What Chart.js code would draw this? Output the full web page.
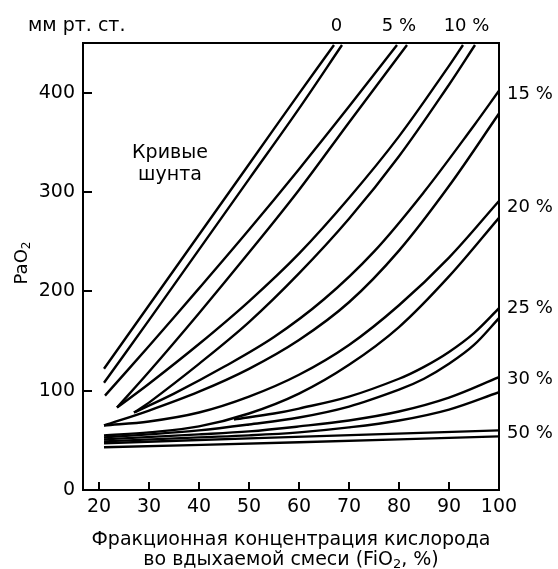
<!DOCTYPE html>
<html>
<head>
<meta charset="utf-8">
<script src="https://cdn.jsdelivr.net/npm/chart.js@4"></script>
<style>
  html, body { margin: 0; padding: 0; background: #fff; }
</style>
</head>
<body>
<canvas id="shuntChart" width="558" height="569"></canvas>
<script>
const fio2Ticks = [20, 30, 40, 50, 60, 70, 80, 90, 100];
const pao2Ticks = [0, 100, 200, 300, 400];

// two curves per shunt level, [FiO2 %, PaO2 mm Hg]
const shunt0a = [[21, 122], [30, 186], [40, 257], [50, 328], [60, 399], [67, 448]];
const shunt0b = [[21, 108], [30, 171], [40, 242], [50, 313], [60, 384], [68.6, 448]];
const shunt5a = [[21.2, 95], [30, 145], [40, 203], [50, 262], [60, 323], [70, 386], [79.6, 448]];
const shunt5b = [[23.6, 83], [30, 119], [40, 178], [50, 239], [60, 302], [70, 370], [81.6, 448]];
const shunt10a = [[23.6, 83], [30, 107], [40, 147], [50, 190], [60, 238], [70, 294], [80, 356], [90, 427], [92.8, 448]];
const shunt10b = [[27, 78], [30, 88], [40, 127], [50, 169], [60, 218], [70, 273], [80, 336], [90, 408], [95.2, 448]];
const shunt15a = [[27, 78], [35, 97], [45, 124], [55, 154], [65, 192], [75, 240], [85, 300], [95, 367], [100, 402]];
const shunt15b = [[21, 65], [30, 80], [40, 99], [50, 122], [60, 151], [70, 189], [80, 241], [90, 306], [100, 379]];
const shunt20a = [[21, 65], [30, 69], [40, 78], [50, 94], [60, 116], [70, 146], [80, 186], [90, 234], [100, 291]];
const shunt20b = [[21, 55], [30, 58], [40, 64], [50, 77], [60, 97], [70, 126], [80, 164], [90, 215], [100, 274]];
const shunt25a = [[47, 71], [55, 77], [60, 82], [70, 94], [80, 112], [85, 124], [90, 139], [95, 158], [100, 183]];
const shunt25b = [[21, 53], [30, 56], [40, 60], [50, 66], [60, 73], [70, 84], [80, 101], [85, 112], [90, 127], [95, 146], [100, 173]];
const shunt30a = [[21, 51], [40, 56], [50, 59], [60, 64], [70, 70], [80, 79], [90, 93], [100, 113.6]];
const shunt30b = [[21, 49], [40, 53], [50, 55], [60, 58], [70, 63], [80, 70], [90, 81], [100, 98.5]];
const shunt50a = [[21, 47], [50, 52], [100, 60]];
const shunt50b = [[21, 43], [60, 48], [100, 54]];

const topLabels = ["0", "5 %", "10 %"];
const topLabelX = [67.5, 80, 93.5];
const rightLabels = ["15 %", "20 %", "25 %", "30 %", "50 %"];
const rightLabelY = [398, 285, 183, 111, 57];

const curves = [shunt0a, shunt0b, shunt5a, shunt5b, shunt10a, shunt10b, shunt15a, shunt15b,
  shunt20a, shunt20b, shunt25a, shunt25b, shunt30a, shunt30b, shunt50a, shunt50b];

const font = "'DejaVu Sans', sans-serif";

const frameAndText = {
  id: "frameAndText",
  afterDraw(chart) {
    const ctx = chart.ctx;
    const a = chart.chartArea;
    const xs = chart.scales.x;
    const ys = chart.scales.y;
    ctx.save();
    ctx.strokeStyle = "#000";
    ctx.lineWidth = 2;
    ctx.strokeRect(a.left, a.top, a.right - a.left, a.bottom - a.top);
    // inward tick marks
    ctx.beginPath();
    fio2Ticks.forEach((v) => {
      const px = Math.round(xs.getPixelForValue(v));
      ctx.moveTo(px, a.bottom);
      ctx.lineTo(px, a.bottom - 8);
    });
    pao2Ticks.slice(1).forEach((v) => {
      const py = Math.round(ys.getPixelForValue(v));
      ctx.moveTo(a.left, py);
      ctx.lineTo(a.left + 9, py);
    });
    ctx.stroke();

    ctx.fillStyle = "#000";
    ctx.textBaseline = "middle";
    ctx.font = "19px " + font;
    ctx.textAlign = "left";
    ctx.fillText("мм рт. ст.", 28, 26);

    ctx.font = "18px " + font;
    ctx.textAlign = "center";
    topLabels.forEach((t, i) => {
      ctx.fillText(t, xs.getPixelForValue(topLabelX[i]), 26);
    });
    ctx.textAlign = "left";
    rightLabels.forEach((t, i) => {
      ctx.fillText(t, a.right + 8, ys.getPixelForValue(rightLabelY[i]));
    });

    ctx.font = "19px " + font;
    ctx.textAlign = "center";
    ctx.fillText("Кривые", 170, 153);
    ctx.fillText("шунта", 170, 175);

    // y title PaO2
    ctx.save();
    ctx.translate(22, 263);
    ctx.rotate(-Math.PI / 2);
    ctx.font = "18px " + font;
    ctx.textAlign = "left";
    const w1 = ctx.measureText("PaO").width;
    ctx.font = "12px " + font;
    const w2 = ctx.measureText("2").width;
    ctx.font = "18px " + font;
    ctx.fillText("PaO", -(w1 + w2) / 2, 0);
    ctx.font = "12px " + font;
    ctx.fillText("2", -(w1 + w2) / 2 + w1, 5);
    ctx.restore();

    // x title, two lines
    ctx.font = "19px " + font;
    ctx.textAlign = "center";
    ctx.fillText("Фракционная концентрация кислорода", 291, 540);
    const p1 = "во вдыхаемой смеси (FiO";
    const p2 = "2";
    const p3 = ", %)";
    const wa = ctx.measureText(p1).width;
    const wc = ctx.measureText(p3).width;
    ctx.font = "13px " + font;
    const wb = ctx.measureText(p2).width;
    let sx = 291 - (wa + wb + wc) / 2;
    ctx.textAlign = "left";
    ctx.font = "19px " + font;
    ctx.fillText(p1, sx, 560);
    ctx.font = "13px " + font;
    ctx.fillText(p2, sx + wa, 565);
    ctx.font = "19px " + font;
    ctx.fillText(p3, sx + wa + wb, 560);
    ctx.restore();
  },
};

new Chart("shuntChart", {
  type: "scatter",
  data: {
    datasets: curves.map((c) => ({
      data: c.map((p) => ({ x: p[0], y: p[1] })),
      showLine: true,
      borderColor: "#000",
      borderWidth: 2.4,
      pointRadius: 0,
      tension: 0.35,
    })),
  },
  options: {
    responsive: false,
    devicePixelRatio: 1,
    animation: false,
    layout: { padding: { left: 0, right: 59, top: 43, bottom: 0 } },
    plugins: {
      legend: { display: false },
      tooltip: { enabled: false },
    },
    scales: {
      x: {
        type: "linear",
        min: 16.8,
        max: 100,
        afterFit: (s) => { s.height = 79; },
        afterBuildTicks: (s) => { s.ticks = fio2Ticks.map((v) => ({ value: v })); },
        grid: { display: false, drawTicks: false },
        border: { display: false },
        ticks: { color: "#000", padding: 6, font: { family: font, size: 19 } },
      },
      y: {
        type: "linear",
        min: 0,
        max: 450,
        afterFit: (s) => { s.width = 83; },
        afterBuildTicks: (s) => { s.ticks = pao2Ticks.map((v) => ({ value: v })); },
        grid: { display: false, drawTicks: false },
        border: { display: false },
        ticks: { color: "#000", padding: 8, font: { family: font, size: 19 } },
      },
    },
  },
  plugins: [frameAndText],
});
</script>
</body>
</html>
